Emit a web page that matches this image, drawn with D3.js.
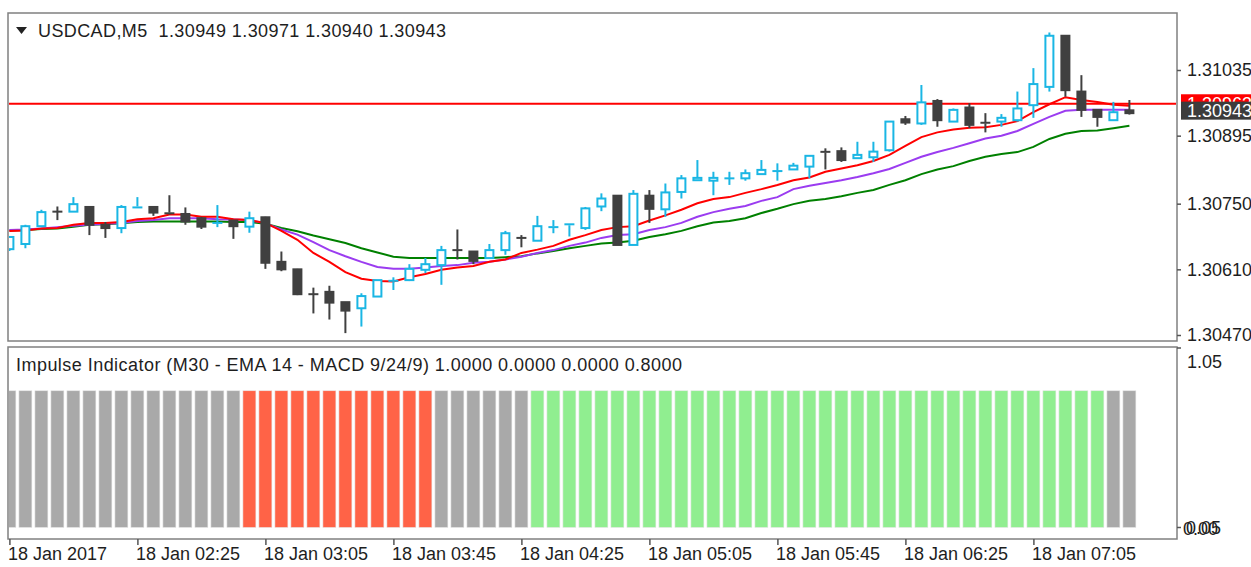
<!DOCTYPE html>
<html>
<head>
<meta charset="utf-8">
<script src="https://cdn.jsdelivr.net/npm/d3@7"></script>
<style>
  body { margin: 0; background: #fff; }
  text { font-family: "Liberation Sans", Arial, sans-serif; fill: #1e1e1e; }
</style>
</head>
<body>
<script>
'use strict';

// USDCAD M5 bars, 01:45 .. 07:35
const barOpen = [1.30653,1.30664,1.30702,1.30733,1.30733,1.30743,1.30705,1.30698,1.30740,1.30743,
  1.30731,1.30728,1.30719,1.30707,1.30714,1.30701,1.30721,1.30626,1.30610,1.30557,
  1.30562,1.30540,1.30527,1.30552,1.30584,1.30587,1.30609,1.30619,1.30652,1.30648,
  1.30634,1.30651,1.30677,1.30671,1.30698,1.30704,1.30698,1.30744,1.30767,1.30662,
  1.30767,1.30738,1.30775,1.30800,1.30799,1.30803,1.30804,1.30813,1.30818,1.30823,
  1.30829,1.30862,1.30862,1.30847,1.30849,1.30864,1.30930,1.30921,1.30969,1.30925,
  1.30955,1.30924,1.30925,1.30928,1.30960,1.30999,1.31108,1.30989,1.30950,1.30928,
  1.30949];
const barHigh = [1.30681,1.30705,1.30737,1.30744,1.30764,1.30743,1.30711,1.30747,1.30764,1.30743,
  1.30768,1.30742,1.30722,1.30747,1.30714,1.30733,1.30722,1.30648,1.30611,1.30571,
  1.30575,1.30540,1.30559,1.30587,1.30593,1.30621,1.30634,1.30660,1.30695,1.30648,
  1.30664,1.30692,1.30683,1.30724,1.30715,1.30708,1.30743,1.30772,1.30768,1.30779,
  1.30779,1.30793,1.30811,1.30843,1.30818,1.30818,1.30823,1.30843,1.30836,1.30837,
  1.30852,1.30868,1.30870,1.30882,1.30882,1.30925,1.30937,1.31003,1.30973,1.30953,
  1.30964,1.30943,1.30941,1.30989,1.31039,1.31115,1.31108,1.31024,1.30950,1.30967,
  1.30971];
const barLow = [1.30649,1.30655,1.30700,1.30715,1.30733,1.30683,1.30677,1.30687,1.30740,1.30724,
  1.30727,1.30705,1.30696,1.30700,1.30675,1.30688,1.30611,1.30606,1.30555,1.30516,
  1.30503,1.30474,1.30488,1.30552,1.30566,1.30585,1.30602,1.30577,1.30631,1.30621,
  1.30634,1.30641,1.30657,1.30671,1.30687,1.30680,1.30694,1.30734,1.30662,1.30662,
  1.30709,1.30722,1.30761,1.30800,1.30768,1.30790,1.30799,1.30813,1.30799,1.30823,
  1.30804,1.30823,1.30839,1.30847,1.30839,1.30861,1.30918,1.30918,1.30914,1.30925,
  1.30911,1.30902,1.30914,1.30925,1.30933,1.30989,1.30978,1.30935,1.30914,1.30928,
  1.30940];
const barClose = [1.30679,1.30702,1.30732,1.30733,1.30749,1.30705,1.30698,1.30743,1.30744,1.30731,
  1.30728,1.30712,1.30701,1.30711,1.30702,1.30719,1.30624,1.30610,1.30557,1.30557,
  1.30539,1.30522,1.30553,1.30587,1.30587,1.30611,1.30621,1.30651,1.30650,1.30628,
  1.30651,1.30687,1.30677,1.30702,1.30702,1.30708,1.30740,1.30761,1.30662,1.30771,
  1.30739,1.30774,1.30804,1.30805,1.30805,1.30805,1.30815,1.30822,1.30821,1.30831,
  1.30852,1.30859,1.30843,1.30854,1.30861,1.30925,1.30923,1.30966,1.30928,1.30950,
  1.30918,1.30921,1.30933,1.30953,1.31005,1.31108,1.30992,1.30950,1.30935,1.30945,
  1.30943];

// moving averages (red = fast, purple = middle, green = slow)
const maRed = [1.30692,1.30693,1.30697,1.30698,1.30705,1.30709,1.30709,1.30711,1.30717,1.30719,
  1.30727,1.30727,1.30722,1.30722,1.30717,1.30715,1.30709,1.30692,1.30673,1.30645,
  1.30626,1.30604,1.30590,1.30585,1.30584,1.30593,1.30600,1.30609,1.30614,1.30617,
  1.30626,1.30631,1.30645,1.30652,1.30660,1.30673,1.30683,1.30694,1.30700,1.30702,
  1.30714,1.30725,1.30737,1.30751,1.30760,1.30764,1.30773,1.30781,1.30790,1.30800,
  1.30806,1.30818,1.30825,1.30832,1.30841,1.30854,1.30873,1.30892,1.30902,1.30908,
  1.30912,1.30913,1.30918,1.30926,1.30945,1.30962,1.30977,1.30971,1.30967,1.30961,
  1.30959];
const maPurple = [1.30694,1.30695,1.30697,1.30700,1.30703,1.30705,1.30707,1.30709,1.30713,1.30715,
  1.30719,1.30719,1.30719,1.30717,1.30716,1.30715,1.30708,1.30695,1.30684,1.30668,
  1.30651,1.30638,1.30626,1.30615,1.30611,1.30611,1.30614,1.30617,1.30619,1.30624,
  1.30626,1.30631,1.30637,1.30645,1.30651,1.30660,1.30667,1.30677,1.30683,1.30685,
  1.30694,1.30700,1.30709,1.30722,1.30732,1.30739,1.30745,1.30756,1.30764,1.30781,
  1.30788,1.30794,1.30800,1.30807,1.30815,1.30824,1.30837,1.30850,1.30860,1.30869,
  1.30879,1.30889,1.30895,1.30905,1.30920,1.30935,1.30948,1.30950,1.30950,1.30950,
  1.30950];
const maGreen = [1.30693,1.30694,1.30696,1.30697,1.30701,1.30705,1.30706,1.30708,1.30711,1.30712,
  1.30712,1.30712,1.30712,1.30712,1.30711,1.30711,1.30707,1.30698,1.30691,1.30682,
  1.30674,1.30666,1.30655,1.30646,1.30637,1.30634,1.30634,1.30634,1.30634,1.30634,
  1.30634,1.30636,1.30638,1.30644,1.30649,1.30655,1.30660,1.30665,1.30667,1.30671,
  1.30679,1.30685,1.30692,1.30702,1.30710,1.30713,1.30719,1.30730,1.30739,1.30749,
  1.30756,1.30760,1.30766,1.30773,1.30779,1.30790,1.30800,1.30813,1.30823,1.30830,
  1.30841,1.30850,1.30856,1.30860,1.30871,1.30888,1.30899,1.30905,1.30906,1.30911,
  1.30916];

// impulse state per bar: 0 = neutral, -1 = down, 1 = up
const impulseState = [0,0,0,0,0,0,0,0,0,0,0,0,0,0,0,
  -1,-1,-1,-1,-1,-1,-1,-1,-1,-1,-1,-1,
  0,0,0,0,0,0,
  1,1,1,1,1,1,1,1,1,1,1,1,1,1,1,1,1,1,1,1,1,1,1,1,1,1,1,1,1,1,1,1,1,1,1,1,
  0,0];
const impulseValue = 0.8;

const priceTicks = [1.31035, 1.30895, 1.30750, 1.30610, 1.30470];
const bidPrice = 1.30943;
const askPrice = 1.30963;
const timeTickIdx = [0, 8, 16, 24, 32, 40, 48, 56, 64];
const timeTickLabels = ["18 Jan 2017", "18 Jan 02:25", "18 Jan 03:05", "18 Jan 03:45", "18 Jan 04:25",
  "18 Jan 05:05", "18 Jan 05:45", "18 Jan 06:25", "18 Jan 07:05"];
const chartTitle = "USDCAD,M5  1.30949 1.30971 1.30940 1.30943";
const indTitle = "Impulse Indicator (M30 - EMA 14 - MACD 9/24/9) 1.0000 0.0000 0.0000 0.8000";

const bullColor = "#1ab6e4";
const bearColor = "#404040";
const impulseColors = { "-1": "#ff6347", "0": "#a9a9a9", "1": "#90ee90" };

const W = 1251, H = 567;
const main = { left: 8, right: 1177, top: 13, bottom: 341 };
const ind = { left: 8, right: 1177, top: 347, bottom: 539 };

const svg = d3.select('body').append('svg')
  .attr('width', W).attr('height', H);

svg.append('rect').attr('width', W).attr('height', H).attr('fill', '#fff');

const x = d3.scaleLinear().domain([0, barOpen.length - 1]).range([9.4, 9.4 + 16 * (barOpen.length - 1)]);
const y = d3.scaleLinear().domain([1.31035, 1.30470]).range([70, 335]);
const yInd = d3.scaleLinear().domain([0, 1.05]).range([527.5, 348]);

const defs = svg.append('defs');
defs.append('clipPath').attr('id', 'clipMain').append('rect')
  .attr('x', main.left + 1).attr('y', main.top + 1)
  .attr('width', main.right - main.left - 2).attr('height', main.bottom - main.top - 2);
defs.append('clipPath').attr('id', 'clipInd').append('rect')
  .attr('x', ind.left + 1).attr('y', ind.top + 1)
  .attr('width', ind.right - ind.left - 2).attr('height', ind.bottom - ind.top - 2);

// ---- main panel ----
const gMain = svg.append('g').attr('clip-path', 'url(#clipMain)');

// ask line
gMain.append('line')
  .attr('x1', main.left).attr('x2', main.right)
  .attr('y1', y(askPrice)).attr('y2', y(askPrice))
  .attr('stroke', '#ff0000').attr('stroke-width', 2);

// moving averages
const idx = d3.range(barOpen.length);
[[maGreen, '#008000'], [maPurple, '#9b3cf0'], [maRed, '#ff0000']].forEach(([arr, col]) => {
  const line = d3.line().x(i => x(i)).y(i => y(arr[i]));
  gMain.append('path')
    .attr('d', line(idx))
    .attr('fill', 'none')
    .attr('stroke', col)
    .attr('stroke-width', 2);
});

// candles
const candles = gMain.selectAll('.candle').data(idx).enter().append('g').attr('class', 'candle');
candles.each(function(i) {
  const g = d3.select(this);
  const o = barOpen[i], c = barClose[i];
  const bull = c > o;
  const col = bull ? bullColor : bearColor;
  const cx = x(i);
  const top = y(Math.max(o, c)), bot = y(Math.min(o, c));
  // wicks
  g.append('line').attr('x1', cx).attr('x2', cx)
    .attr('y1', y(barHigh[i])).attr('y2', top)
    .attr('stroke', col).attr('stroke-width', 2);
  g.append('line').attr('x1', cx).attr('x2', cx)
    .attr('y1', bot).attr('y2', y(barLow[i]))
    .attr('stroke', col).attr('stroke-width', 2);
  if (bot - top < 2) {
    g.append('line').attr('x1', cx - 5).attr('x2', cx + 5)
      .attr('y1', (top + bot) / 2).attr('y2', (top + bot) / 2)
      .attr('stroke', col).attr('stroke-width', 2);
  } else if (bull) {
    g.append('rect').attr('x', cx - 4).attr('y', top)
      .attr('width', 8).attr('height', bot - top)
      .attr('fill', '#fff').attr('stroke', col).attr('stroke-width', 2);
  } else {
    g.append('rect').attr('x', cx - 5).attr('y', top - 1)
      .attr('width', 10).attr('height', bot - top + 2)
      .attr('fill', col);
  }
});

// frame
svg.append('rect')
  .attr('x', main.left).attr('y', main.top)
  .attr('width', main.right - main.left).attr('height', main.bottom - main.top)
  .attr('fill', 'none').attr('stroke', '#808080').attr('stroke-width', 1.5);

// title
svg.append('path')
  .attr('d', 'M16,27 L27,27 L21.5,34 Z')
  .attr('fill', '#222');
svg.append('text')
  .attr('x', 38).attr('y', 37)
  .style('font-size', '18px')
  .style('white-space', 'pre')
  .attr('xml:space', 'preserve')
  .attr('textLength', 408).attr('lengthAdjust', 'spacing')
  .text(chartTitle);

// price axis
const yAxis = svg.append('g')
  .attr('transform', 'translate(' + main.right + ',0)')
  .call(d3.axisRight(y).tickValues(priceTicks).tickSize(4).tickPadding(6).tickFormat(d3.format('.5f')));
yAxis.select('.domain').remove();
yAxis.selectAll('line').attr('stroke', '#555').attr('stroke-width', 1.5);
yAxis.selectAll('text').style('font-size', '18px').style('font-family', '"Liberation Sans", Arial, sans-serif').attr('fill', '#1e1e1e');

// ask / bid labels
svg.append('rect').attr('x', 1181).attr('y', y(askPrice) - 9.5).attr('width', 72).attr('height', 19).attr('fill', '#ff0000');
svg.append('text').attr('x', 1187).attr('y', y(askPrice) + 6).style('font-size', '18px').style('fill', '#fff').text(d3.format('.5f')(askPrice));
svg.append('rect').attr('x', 1181).attr('y', y(bidPrice) - 11.5).attr('width', 72).attr('height', 18).attr('fill', '#3c3c3c');
svg.append('text').attr('x', 1187).attr('y', y(bidPrice) + 3.5).style('font-size', '18px').style('fill', '#fff').text(d3.format('.5f')(bidPrice));

// ---- impulse panel ----
const gInd = svg.append('g').attr('clip-path', 'url(#clipInd)');
gInd.selectAll('.imp').data(idx).enter().append('rect')
  .attr('class', 'imp')
  .attr('x', i => x(i) - 6.5)
  .attr('width', 13)
  .attr('y', yInd(impulseValue))
  .attr('height', yInd(0) - yInd(impulseValue))
  .attr('fill', i => impulseColors[impulseState[i]])
  .attr('stroke', '#e8e8e8').attr('stroke-width', 0.6);

svg.append('rect')
  .attr('x', ind.left).attr('y', ind.top)
  .attr('width', ind.right - ind.left).attr('height', ind.bottom - ind.top)
  .attr('fill', 'none').attr('stroke', '#808080').attr('stroke-width', 1.5);

svg.append('text')
  .attr('x', 16).attr('y', 371)
  .style('font-size', '18px')
  .attr('textLength', 666).attr('lengthAdjust', 'spacing')
  .text(indTitle);

// impulse scale
const indTicks = [1.05, 0];
svg.selectAll('.indtick').data(indTicks).enter().append('line')
  .attr('x1', ind.right).attr('x2', ind.right + 4)
  .attr('y1', d => yInd(d)).attr('y2', d => yInd(d))
  .attr('stroke', '#555').attr('stroke-width', 1.5);
svg.append('text').attr('x', 1187).attr('y', yInd(1.05) + 20).style('font-size', '18px').text('1.05');
svg.append('text').attr('x', 1183).attr('y', yInd(0) + 7).style('font-size', '18px').text('0.00');
svg.append('text').attr('x', 1186).attr('y', yInd(0) + 6).style('font-size', '18px').text('0.05');

// time axis
const xAxis = svg.append('g')
  .attr('transform', 'translate(0,' + ind.bottom + ')')
  .call(d3.axisBottom(x).tickValues(timeTickIdx).tickSize(6).tickPadding(2)
    .tickFormat((d, i) => timeTickLabels[i]));
xAxis.select('.domain').remove();
xAxis.selectAll('line').attr('stroke', '#555').attr('stroke-width', 1.5);
xAxis.selectAll('text')
  .style('font-size', '18px')
  .style('font-family', '"Liberation Sans", Arial, sans-serif')
  .attr('fill', '#1e1e1e')
  .attr('text-anchor', 'start')
  .attr('x', -2);
</script>
</body>
</html>
